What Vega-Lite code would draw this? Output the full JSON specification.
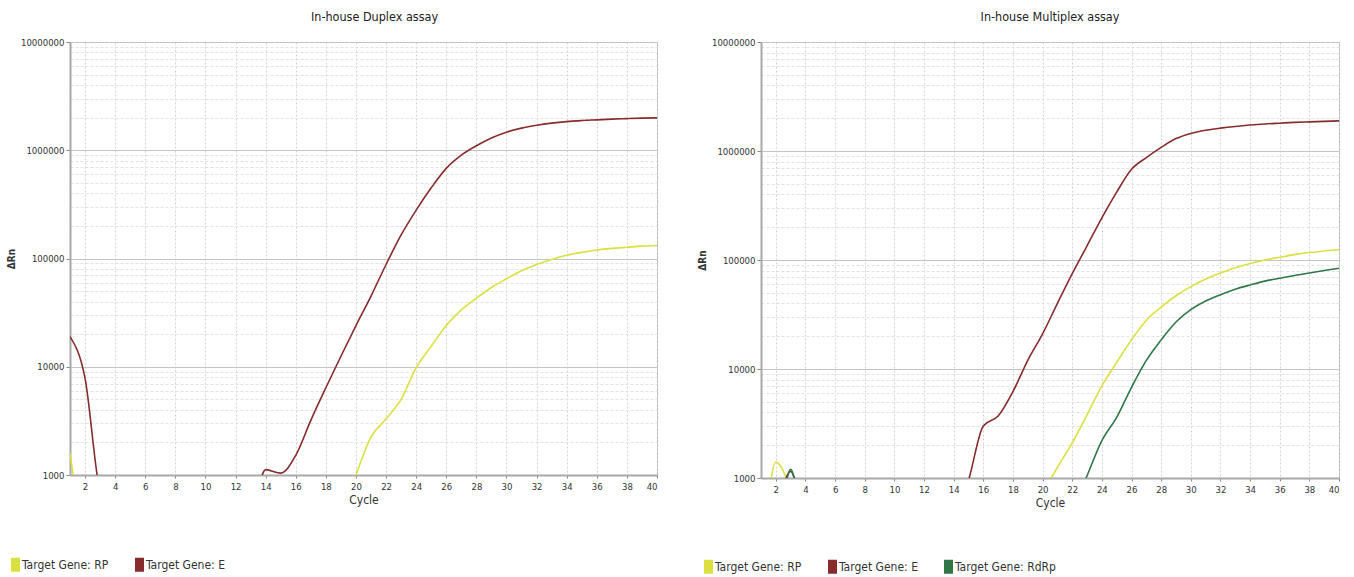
{
"$schema": "https://vega.github.io/schema/vega-lite/v6.json",
"background": "white",
"padding": {"left": 3, "top": 10, "right": 10, "bottom": 0},
"config": {
  "font": "DejaVu Sans Condensed, sans-serif",
  "view": {"stroke": "#b4b4b4", "strokeWidth": 1},
  "title": {"fontSize": 12.5, "fontWeight": "normal", "color": "#222", "frame": "group", "offset": 14},
  "axis": {"labelFontSize": 9.5, "labelColor": "#333", "titleColor": "#333", "domainColor": "#a8a8a8", "domainWidth": 2, "tickColor": "#888", "labelOverlap": false}
},
"datasets": {"d": [
{"panel":"Duplex","gene":"RP","cycle":1,"value":1600},{"panel":"Duplex","gene":"RP","cycle":2,"value":300},{"panel":"Duplex","gene":"RP","cycle":3,"value":250},{"panel":"Duplex","gene":"RP","cycle":4,"value":250},{"panel":"Duplex","gene":"RP","cycle":5,"value":250},{"panel":"Duplex","gene":"RP","cycle":6,"value":250},{"panel":"Duplex","gene":"RP","cycle":7,"value":250},{"panel":"Duplex","gene":"RP","cycle":8,"value":250},{"panel":"Duplex","gene":"RP","cycle":9,"value":250},{"panel":"Duplex","gene":"RP","cycle":10,"value":250},{"panel":"Duplex","gene":"RP","cycle":11,"value":250},{"panel":"Duplex","gene":"RP","cycle":12,"value":250},{"panel":"Duplex","gene":"RP","cycle":13,"value":250},{"panel":"Duplex","gene":"RP","cycle":14,"value":250},{"panel":"Duplex","gene":"RP","cycle":15,"value":250},{"panel":"Duplex","gene":"RP","cycle":16,"value":250},{"panel":"Duplex","gene":"RP","cycle":17,"value":250},{"panel":"Duplex","gene":"RP","cycle":18,"value":250},{"panel":"Duplex","gene":"RP","cycle":19,"value":400},{"panel":"Duplex","gene":"RP","cycle":20,"value":1000},{"panel":"Duplex","gene":"RP","cycle":21,"value":2250},{"panel":"Duplex","gene":"RP","cycle":22,"value":3300},{"panel":"Duplex","gene":"RP","cycle":23,"value":5000},{"panel":"Duplex","gene":"RP","cycle":24,"value":9800},{"panel":"Duplex","gene":"RP","cycle":25,"value":15500},{"panel":"Duplex","gene":"RP","cycle":26,"value":24000},{"panel":"Duplex","gene":"RP","cycle":27,"value":33500},{"panel":"Duplex","gene":"RP","cycle":28,"value":43000},{"panel":"Duplex","gene":"RP","cycle":29,"value":54000},{"panel":"Duplex","gene":"RP","cycle":30,"value":65000},{"panel":"Duplex","gene":"RP","cycle":31,"value":77000},{"panel":"Duplex","gene":"RP","cycle":32,"value":88000},{"panel":"Duplex","gene":"RP","cycle":33,"value":98000},{"panel":"Duplex","gene":"RP","cycle":34,"value":107000},{"panel":"Duplex","gene":"RP","cycle":35,"value":114000},{"panel":"Duplex","gene":"RP","cycle":36,"value":120000},{"panel":"Duplex","gene":"RP","cycle":37,"value":124000},{"panel":"Duplex","gene":"RP","cycle":38,"value":127000},{"panel":"Duplex","gene":"RP","cycle":39,"value":130000},{"panel":"Duplex","gene":"RP","cycle":40,"value":132000},
{"panel":"Duplex","gene":"E","cycle":1,"value":19000},{"panel":"Duplex","gene":"E","cycle":2,"value":7800},{"panel":"Duplex","gene":"E","cycle":3,"value":700},{"panel":"Duplex","gene":"E","cycle":4,"value":400},{"panel":"Duplex","gene":"E","cycle":5,"value":350},{"panel":"Duplex","gene":"E","cycle":6,"value":300},{"panel":"Duplex","gene":"E","cycle":7,"value":300},{"panel":"Duplex","gene":"E","cycle":8,"value":300},{"panel":"Duplex","gene":"E","cycle":9,"value":300},{"panel":"Duplex","gene":"E","cycle":10,"value":300},{"panel":"Duplex","gene":"E","cycle":11,"value":300},{"panel":"Duplex","gene":"E","cycle":12,"value":300},{"panel":"Duplex","gene":"E","cycle":13,"value":400},{"panel":"Duplex","gene":"E","cycle":14,"value":1120},{"panel":"Duplex","gene":"E","cycle":15,"value":1040},{"panel":"Duplex","gene":"E","cycle":16,"value":1520},{"panel":"Duplex","gene":"E","cycle":17,"value":3200},{"panel":"Duplex","gene":"E","cycle":18,"value":6400},{"panel":"Duplex","gene":"E","cycle":19,"value":12500},{"panel":"Duplex","gene":"E","cycle":20,"value":24000},{"panel":"Duplex","gene":"E","cycle":21,"value":45000},{"panel":"Duplex","gene":"E","cycle":22,"value":88000},{"panel":"Duplex","gene":"E","cycle":23,"value":165000},{"panel":"Duplex","gene":"E","cycle":24,"value":280000},{"panel":"Duplex","gene":"E","cycle":25,"value":450000},{"panel":"Duplex","gene":"E","cycle":26,"value":680000},{"panel":"Duplex","gene":"E","cycle":27,"value":900000},{"panel":"Duplex","gene":"E","cycle":28,"value":1100000},{"panel":"Duplex","gene":"E","cycle":29,"value":1300000},{"panel":"Duplex","gene":"E","cycle":30,"value":1470000},{"panel":"Duplex","gene":"E","cycle":31,"value":1600000},{"panel":"Duplex","gene":"E","cycle":32,"value":1700000},{"panel":"Duplex","gene":"E","cycle":33,"value":1780000},{"panel":"Duplex","gene":"E","cycle":34,"value":1840000},{"panel":"Duplex","gene":"E","cycle":35,"value":1880000},{"panel":"Duplex","gene":"E","cycle":36,"value":1910000},{"panel":"Duplex","gene":"E","cycle":37,"value":1940000},{"panel":"Duplex","gene":"E","cycle":38,"value":1960000},{"panel":"Duplex","gene":"E","cycle":39,"value":1980000},{"panel":"Duplex","gene":"E","cycle":40,"value":1990000},
{"panel":"Multiplex","gene":"RP","cycle":1,"value":100},{"panel":"Multiplex","gene":"RP","cycle":2,"value":1400},{"panel":"Multiplex","gene":"RP","cycle":3,"value":800},{"panel":"Multiplex","gene":"RP","cycle":4,"value":300},{"panel":"Multiplex","gene":"RP","cycle":5,"value":300},{"panel":"Multiplex","gene":"RP","cycle":6,"value":300},{"panel":"Multiplex","gene":"RP","cycle":7,"value":300},{"panel":"Multiplex","gene":"RP","cycle":8,"value":300},{"panel":"Multiplex","gene":"RP","cycle":9,"value":300},{"panel":"Multiplex","gene":"RP","cycle":10,"value":300},{"panel":"Multiplex","gene":"RP","cycle":11,"value":300},{"panel":"Multiplex","gene":"RP","cycle":12,"value":300},{"panel":"Multiplex","gene":"RP","cycle":13,"value":300},{"panel":"Multiplex","gene":"RP","cycle":14,"value":300},{"panel":"Multiplex","gene":"RP","cycle":15,"value":300},{"panel":"Multiplex","gene":"RP","cycle":16,"value":300},{"panel":"Multiplex","gene":"RP","cycle":17,"value":300},{"panel":"Multiplex","gene":"RP","cycle":18,"value":300},{"panel":"Multiplex","gene":"RP","cycle":19,"value":300},{"panel":"Multiplex","gene":"RP","cycle":20,"value":700},{"panel":"Multiplex","gene":"RP","cycle":21,"value":1250},{"panel":"Multiplex","gene":"RP","cycle":22,"value":2100},{"panel":"Multiplex","gene":"RP","cycle":23,"value":3800},{"panel":"Multiplex","gene":"RP","cycle":24,"value":7000},{"panel":"Multiplex","gene":"RP","cycle":25,"value":11500},{"panel":"Multiplex","gene":"RP","cycle":26,"value":18500},{"panel":"Multiplex","gene":"RP","cycle":27,"value":28000},{"panel":"Multiplex","gene":"RP","cycle":28,"value":37000},{"panel":"Multiplex","gene":"RP","cycle":29,"value":47000},{"panel":"Multiplex","gene":"RP","cycle":30,"value":57000},{"panel":"Multiplex","gene":"RP","cycle":31,"value":67000},{"panel":"Multiplex","gene":"RP","cycle":32,"value":76000},{"panel":"Multiplex","gene":"RP","cycle":33,"value":85000},{"panel":"Multiplex","gene":"RP","cycle":34,"value":93000},{"panel":"Multiplex","gene":"RP","cycle":35,"value":100000},{"panel":"Multiplex","gene":"RP","cycle":36,"value":106000},{"panel":"Multiplex","gene":"RP","cycle":37,"value":112000},{"panel":"Multiplex","gene":"RP","cycle":38,"value":117000},{"panel":"Multiplex","gene":"RP","cycle":39,"value":121000},{"panel":"Multiplex","gene":"RP","cycle":40,"value":125000},
{"panel":"Multiplex","gene":"E","cycle":1,"value":300},{"panel":"Multiplex","gene":"E","cycle":2,"value":500},{"panel":"Multiplex","gene":"E","cycle":3,"value":1150},{"panel":"Multiplex","gene":"E","cycle":4,"value":400},{"panel":"Multiplex","gene":"E","cycle":5,"value":300},{"panel":"Multiplex","gene":"E","cycle":6,"value":300},{"panel":"Multiplex","gene":"E","cycle":7,"value":300},{"panel":"Multiplex","gene":"E","cycle":8,"value":300},{"panel":"Multiplex","gene":"E","cycle":9,"value":300},{"panel":"Multiplex","gene":"E","cycle":10,"value":300},{"panel":"Multiplex","gene":"E","cycle":11,"value":300},{"panel":"Multiplex","gene":"E","cycle":12,"value":300},{"panel":"Multiplex","gene":"E","cycle":13,"value":300},{"panel":"Multiplex","gene":"E","cycle":14,"value":400},{"panel":"Multiplex","gene":"E","cycle":15,"value":950},{"panel":"Multiplex","gene":"E","cycle":16,"value":3000},{"panel":"Multiplex","gene":"E","cycle":17,"value":3700},{"panel":"Multiplex","gene":"E","cycle":18,"value":6200},{"panel":"Multiplex","gene":"E","cycle":19,"value":12000},{"panel":"Multiplex","gene":"E","cycle":20,"value":21000},{"panel":"Multiplex","gene":"E","cycle":21,"value":40000},{"panel":"Multiplex","gene":"E","cycle":22,"value":75000},{"panel":"Multiplex","gene":"E","cycle":23,"value":135000},{"panel":"Multiplex","gene":"E","cycle":24,"value":244000},{"panel":"Multiplex","gene":"E","cycle":25,"value":420000},{"panel":"Multiplex","gene":"E","cycle":26,"value":680000},{"panel":"Multiplex","gene":"E","cycle":27,"value":870000},{"panel":"Multiplex","gene":"E","cycle":28,"value":1080000},{"panel":"Multiplex","gene":"E","cycle":29,"value":1300000},{"panel":"Multiplex","gene":"E","cycle":30,"value":1450000},{"panel":"Multiplex","gene":"E","cycle":31,"value":1550000},{"panel":"Multiplex","gene":"E","cycle":32,"value":1620000},{"panel":"Multiplex","gene":"E","cycle":33,"value":1680000},{"panel":"Multiplex","gene":"E","cycle":34,"value":1730000},{"panel":"Multiplex","gene":"E","cycle":35,"value":1770000},{"panel":"Multiplex","gene":"E","cycle":36,"value":1800000},{"panel":"Multiplex","gene":"E","cycle":37,"value":1830000},{"panel":"Multiplex","gene":"E","cycle":38,"value":1850000},{"panel":"Multiplex","gene":"E","cycle":39,"value":1870000},{"panel":"Multiplex","gene":"E","cycle":40,"value":1890000},
{"panel":"Multiplex","gene":"RdRp","cycle":1,"value":300},{"panel":"Multiplex","gene":"RdRp","cycle":2,"value":300},{"panel":"Multiplex","gene":"RdRp","cycle":3,"value":1200},{"panel":"Multiplex","gene":"RdRp","cycle":4,"value":300},{"panel":"Multiplex","gene":"RdRp","cycle":5,"value":300},{"panel":"Multiplex","gene":"RdRp","cycle":6,"value":300},{"panel":"Multiplex","gene":"RdRp","cycle":7,"value":300},{"panel":"Multiplex","gene":"RdRp","cycle":8,"value":300},{"panel":"Multiplex","gene":"RdRp","cycle":9,"value":300},{"panel":"Multiplex","gene":"RdRp","cycle":10,"value":300},{"panel":"Multiplex","gene":"RdRp","cycle":11,"value":300},{"panel":"Multiplex","gene":"RdRp","cycle":12,"value":300},{"panel":"Multiplex","gene":"RdRp","cycle":13,"value":300},{"panel":"Multiplex","gene":"RdRp","cycle":14,"value":300},{"panel":"Multiplex","gene":"RdRp","cycle":15,"value":300},{"panel":"Multiplex","gene":"RdRp","cycle":16,"value":300},{"panel":"Multiplex","gene":"RdRp","cycle":17,"value":300},{"panel":"Multiplex","gene":"RdRp","cycle":18,"value":300},{"panel":"Multiplex","gene":"RdRp","cycle":19,"value":300},{"panel":"Multiplex","gene":"RdRp","cycle":20,"value":300},{"panel":"Multiplex","gene":"RdRp","cycle":21,"value":300},{"panel":"Multiplex","gene":"RdRp","cycle":22,"value":500},{"panel":"Multiplex","gene":"RdRp","cycle":23,"value":1050},{"panel":"Multiplex","gene":"RdRp","cycle":24,"value":2200},{"panel":"Multiplex","gene":"RdRp","cycle":25,"value":3600},{"panel":"Multiplex","gene":"RdRp","cycle":26,"value":6800},{"panel":"Multiplex","gene":"RdRp","cycle":27,"value":12000},{"panel":"Multiplex","gene":"RdRp","cycle":28,"value":18500},{"panel":"Multiplex","gene":"RdRp","cycle":29,"value":27000},{"panel":"Multiplex","gene":"RdRp","cycle":30,"value":35000},{"panel":"Multiplex","gene":"RdRp","cycle":31,"value":42000},{"panel":"Multiplex","gene":"RdRp","cycle":32,"value":48000},{"panel":"Multiplex","gene":"RdRp","cycle":33,"value":54000},{"panel":"Multiplex","gene":"RdRp","cycle":34,"value":59000},{"panel":"Multiplex","gene":"RdRp","cycle":35,"value":64000},{"panel":"Multiplex","gene":"RdRp","cycle":36,"value":68000},{"panel":"Multiplex","gene":"RdRp","cycle":37,"value":72000},{"panel":"Multiplex","gene":"RdRp","cycle":38,"value":76000},{"panel":"Multiplex","gene":"RdRp","cycle":39,"value":80000},{"panel":"Multiplex","gene":"RdRp","cycle":40,"value":84000}
]},
"spacing": 38,
"hconcat": [
  {
    "title": {"text": "In-house Duplex assay", "dx": 11},
    "width": 587, "height": 433,
    "data": {"name": "d"},
    "transform": [{"filter": "datum.panel == 'Duplex'"}],
    "mark": {"type": "line", "clip": true, "strokeWidth": 1.6, "interpolate": "monotone"},
    "encoding": {
      "x": {"field": "cycle", "type": "quantitative", "scale": {"domain": [1, 40], "nice": false, "zero": false},
        "axis": {"title": "Cycle", "values": [2,4,6,8,10,12,14,16,18,20,22,24,26,28,30,32,34,36,38,40], "format": "d", "grid": true, "gridDash": [2,2], "gridColor": "#d2d2d2", "tickSize": 3, "titleFontSize": 12, "titleFontWeight": "normal", "titlePadding": 4, "labelPadding": 3}},
      "y": {"field": "value", "type": "quantitative", "scale": {"type": "log", "domain": [1000, 10000000], "nice": false},
        "axis": {"title": "ΔRn", "values": [1000,2000,3000,4000,5000,6000,7000,8000,9000,10000,20000,30000,40000,50000,60000,70000,80000,90000,100000,200000,300000,400000,500000,600000,700000,800000,900000,1000000,2000000,3000000,4000000,5000000,6000000,7000000,8000000,9000000,10000000],
          "labelExpr": "indexof([1000,10000,100000,1000000,10000000], datum.value) >= 0 ? format(datum.value, 'd') : ''",
          "grid": true,
          "gridColor": {"condition": {"test": "indexof([1000,10000,100000,1000000,10000000], datum.value) >= 0", "value": "#c4c4c4"}, "value": "#e2e2e2"},
          "gridDash": {"condition": {"test": "indexof([1000,10000,100000,1000000,10000000], datum.value) >= 0", "value": []}, "value": [3,2]},
          "tickSize": {"condition": {"test": "indexof([1000,10000,100000,1000000,10000000], datum.value) >= 0", "value": 4}, "value": 0},
          "titleFontSize": 10, "titleFontWeight": "bold", "titlePadding": 4, "labelPadding": 2}},
      "color": {"field": "gene", "type": "nominal", "scale": {"domain": ["RP", "E"], "range": ["#dbe040", "#862c2c"]},
        "legend": {"orient": "none", "legendX": -66, "legendY": 511, "direction": "horizontal", "title": null, "symbolType": "M0,-1L0,1", "symbolSize": 196, "symbolStrokeWidth": 9, "labelFontSize": 12, "labelColor": "#333", "labelOffset": -5, "labelExpr": "'Target Gene: ' + datum.label", "columnPadding": 12}}
    }
  },
  {
    "title": {"text": "In-house Multiplex assay"},
    "width": 578, "height": 436,
    "data": {"name": "d"},
    "transform": [{"filter": "datum.panel == 'Multiplex'"}],
    "mark": {"type": "line", "clip": true, "strokeWidth": 1.6, "interpolate": "monotone"},
    "encoding": {
      "x": {"field": "cycle", "type": "quantitative", "scale": {"domain": [1, 40], "nice": false, "zero": false},
        "axis": {"title": "Cycle", "values": [2,4,6,8,10,12,14,16,18,20,22,24,26,28,30,32,34,36,38,40], "format": "d", "grid": true, "gridDash": [2,2], "gridColor": "#d2d2d2", "tickSize": 3, "titleFontSize": 12, "titleFontWeight": "normal", "titlePadding": 4, "labelPadding": 3}},
      "y": {"field": "value", "type": "quantitative", "scale": {"type": "log", "domain": [1000, 10000000], "nice": false},
        "axis": {"title": "ΔRn", "values": [1000,2000,3000,4000,5000,6000,7000,8000,9000,10000,20000,30000,40000,50000,60000,70000,80000,90000,100000,200000,300000,400000,500000,600000,700000,800000,900000,1000000,2000000,3000000,4000000,5000000,6000000,7000000,8000000,9000000,10000000],
          "labelExpr": "indexof([1000,10000,100000,1000000,10000000], datum.value) >= 0 ? format(datum.value, 'd') : ''",
          "grid": true,
          "gridColor": {"condition": {"test": "indexof([1000,10000,100000,1000000,10000000], datum.value) >= 0", "value": "#c4c4c4"}, "value": "#e2e2e2"},
          "gridDash": {"condition": {"test": "indexof([1000,10000,100000,1000000,10000000], datum.value) >= 0", "value": []}, "value": [3,2]},
          "tickSize": {"condition": {"test": "indexof([1000,10000,100000,1000000,10000000], datum.value) >= 0", "value": 4}, "value": 0},
          "titleFontSize": 10, "titleFontWeight": "bold", "titlePadding": 4, "labelPadding": 2}},
      "color": {"field": "gene", "type": "nominal", "scale": {"domain": ["RP", "E", "RdRp"], "range": ["#dbe040", "#862c2c", "#2f7747"]},
        "legend": {"orient": "none", "legendX": -64, "legendY": 513, "direction": "horizontal", "title": null, "symbolType": "M0,-1L0,1", "symbolSize": 196, "symbolStrokeWidth": 9, "labelFontSize": 12, "labelColor": "#333", "labelOffset": -5, "labelExpr": "'Target Gene: ' + datum.label", "columnPadding": 12}}
    }
  }
],
"resolve": {"scale": {"color": "independent"}, "legend": {"color": "independent"}}
}
